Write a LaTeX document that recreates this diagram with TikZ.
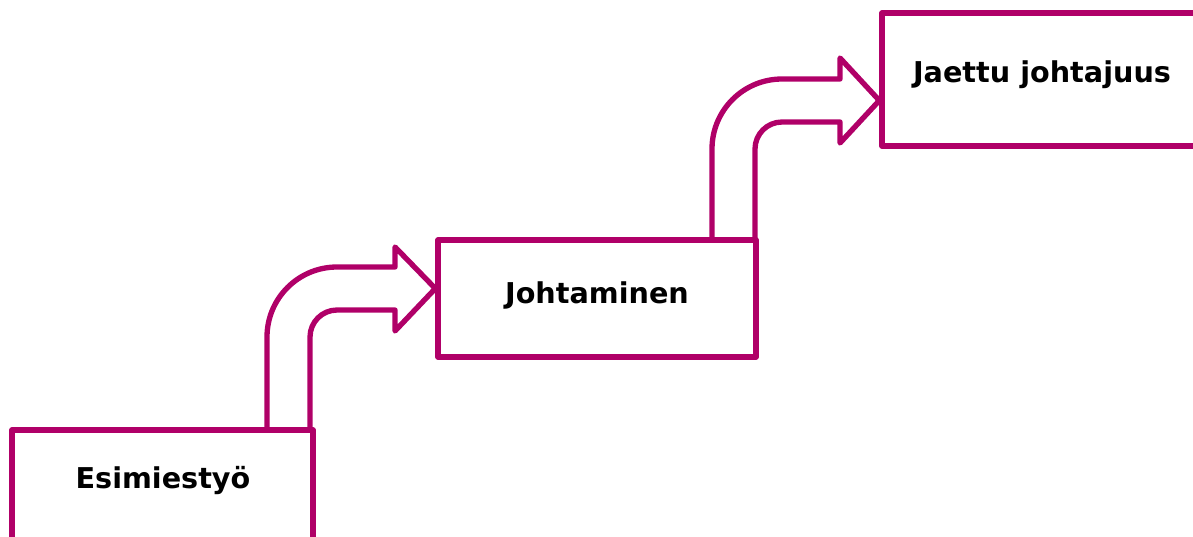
\documentclass[tikz,border=0pt]{standalone}
\usepackage{fontspec}
\setmainfont{DejaVu Sans}
\definecolor{plum}{RGB}{176,0,104}
\begin{document}
\begin{tikzpicture}[x=0.75pt,y=-0.75pt,
  box/.style={draw=plum,line width=4pt,rectangle,inner sep=0pt,line join=round},
  lbl/.style={font=\bfseries\fontsize{21.5}{24}\selectfont,text=black,anchor=base,inner sep=0pt},
  bentarrow/.style={draw=plum,line width=4pt,line join=round,line cap=round}]
\useasboundingbox (0,0) rectangle (1193,536);
\clip (0,0) rectangle (1193,536);
% boxes
\node[box,minimum width=225.75pt,minimum height=87.75pt] (esim) at (162.5,488.5) {};
\node[box,minimum width=238.5pt,minimum height=87.75pt] (jt) at (597,298.5) {};
\node[box,minimum width=240pt,minimum height=99.75pt] (jj) at (1042,79.5) {};
% labels
\node[lbl] (lesim) at (163,488) {Esimiestyö};
\node[lbl] (ljt) at (597,303) {Johtaminen};
\node[lbl] (ljj) at (1042,82) {Jaettu johtajuus};
% bent arrow 1: Esimiestyö -> Johtaminen
\coordinate (a1o) at (267,0 |- esim.north);
\coordinate (a1i) at (310,0 |- esim.north);
\coordinate (a1t) at (jt.west |- 0,288.5);
\draw[bentarrow] (a1o) -- (267,337) .. controls (267,298.34) and (298.34,267) .. (337,267)
  -- (395,267) -- (395,247) -- (a1t) -- (395,331) -- (395,310) -- (337,310)
  .. controls (322.1,310) and (310,322.1) .. (310,337) -- (a1i);
% bent arrow 2: Johtaminen -> Jaettu johtajuus
\coordinate (a2o) at (712,0 |- jt.north);
\coordinate (a2i) at (755,0 |- jt.north);
\coordinate (a2t) at (jj.west |- 0,100.5);
\draw[bentarrow] (a2o) -- (712,149) .. controls (712,110.34) and (743.34,79) .. (782,79)
  -- (840,79) -- (840,58) -- (a2t) -- (840,143) -- (840,122) -- (782,122)
  .. controls (767.1,122) and (755,134.1) .. (755,149) -- (a2i);
\end{tikzpicture}
\end{document}
